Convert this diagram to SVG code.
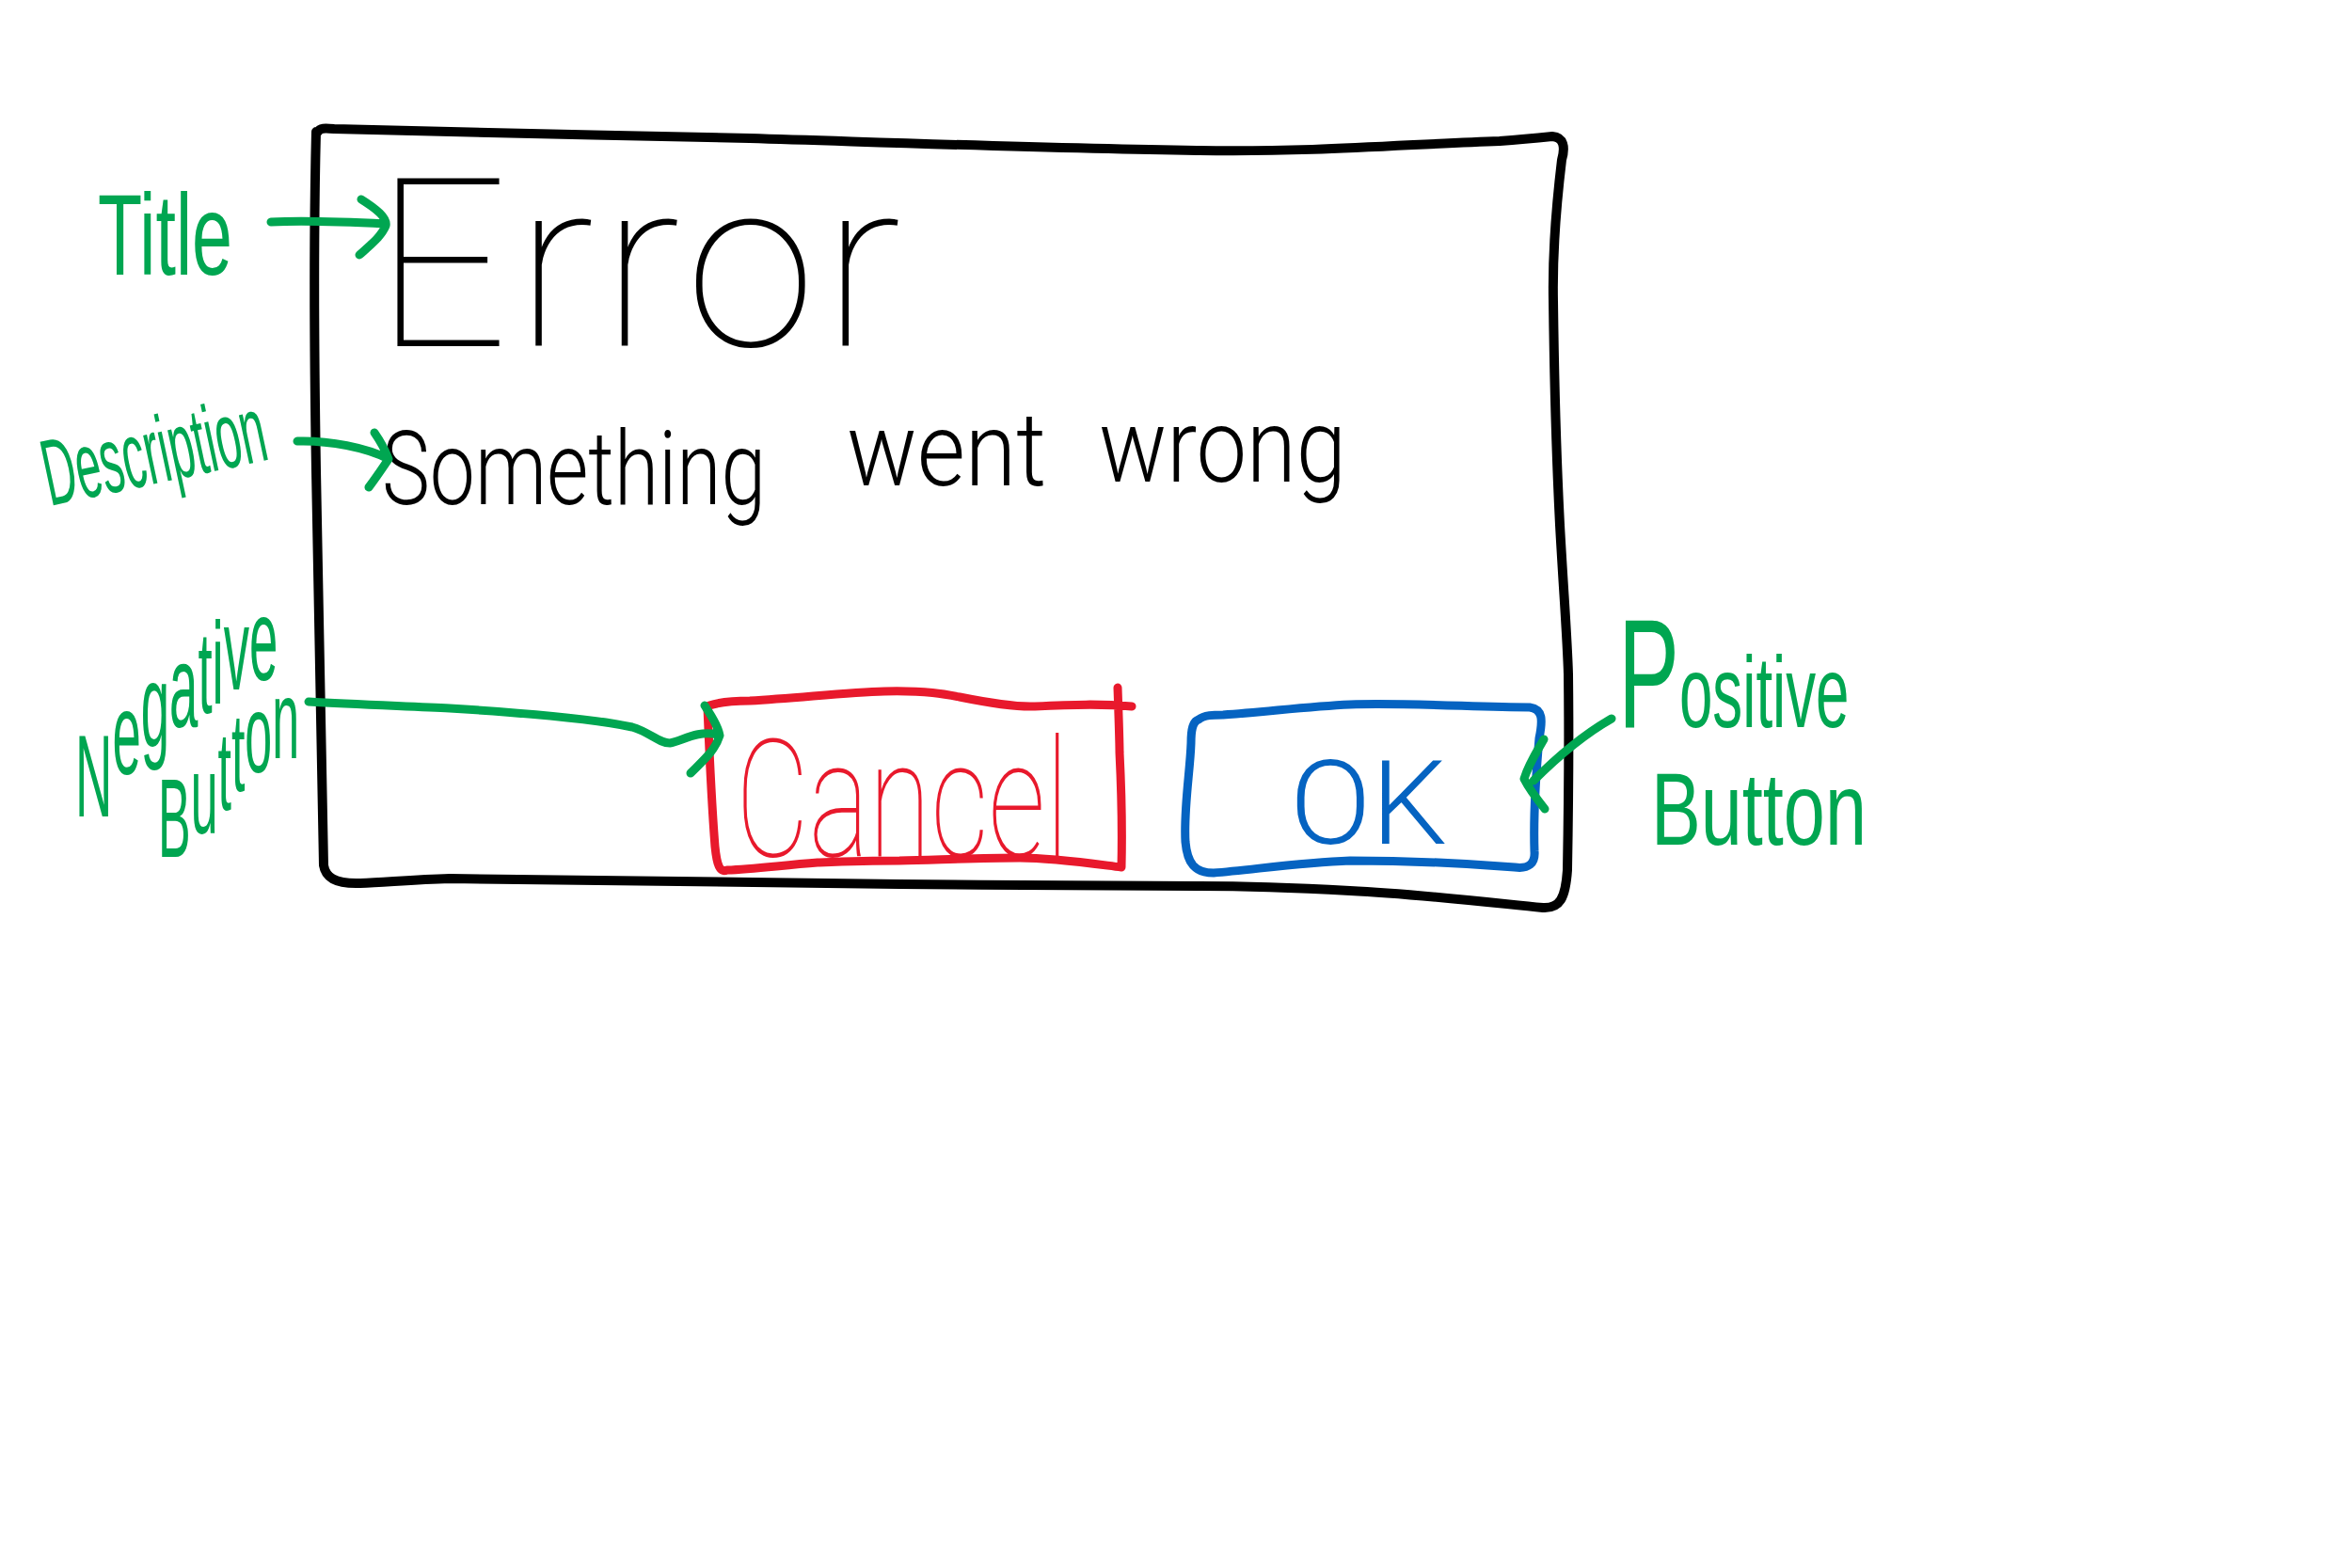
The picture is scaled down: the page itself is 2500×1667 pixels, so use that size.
<svg xmlns="http://www.w3.org/2000/svg" width="2500" height="1667" viewBox="0 0 2500 1667">
  <style>
    .ink { fill: none; stroke-linecap: round; stroke-linejoin: round; }
    .black { stroke: #000000; stroke-width: 10; }
    .red { stroke: #E8192C; stroke-width: 9; }
    .blue { stroke: #0563C1; stroke-width: 9; }
    .green { stroke: #00A651; stroke-width: 9; }
    .hand { font-family: "Roboto", "Liberation Sans", sans-serif; font-weight: 100; }
    .hand-mid { font-family: "Roboto", "Liberation Sans", sans-serif; font-weight: 300; }
    .note { font-family: "Liberation Sans", sans-serif; fill: #00A651; }
  </style>

  <rect x="0" y="0" width="2500" height="1667" fill="#FFFFFF"/>

  <!-- dialog frame -->
  <g id="dialog">
    <path class="ink black" d="M338,140 C340,136 345,136 355,137 C500,141 650,144 797,147 C960,152 1120,158 1275,160 C1400,162 1500,153 1594,150 C1620,148 1640,146 1650,145 C1662,146 1664,156 1660,170 C1654,220 1650,270 1651,320 C1652,400 1654,480 1658,558 C1662,630 1666,680 1667,717 C1668,800 1667,870 1666,925 C1664,955 1658,966 1640,965 C1570,958 1500,950 1435,947 C1380,944 1320,942 1275,942 C1150,941 1060,941 956,940 C800,937 640,935 478,934 C440,935 410,938 383,939 C355,940 346,932 344,920 C342,800 338,650 336,500 C334,380 333,260 336,140"/>
  </g>

  <!-- title -->
  <g id="title">
    <text class="hand" x="398" y="368" font-size="250" textLength="560" fill="#000000">Error</text>
  </g>

  <!-- description, one word per text so each can sit on its own baseline -->
  <g id="description" class="hand-mid" font-size="110" fill="#000000">
    <text transform="translate(406,536) scale(0.78,1)">Something</text>
    <text transform="translate(900,516) scale(0.9,1)">went</text>
    <text transform="translate(1168,512) scale(0.87,1)">wrong</text>
  </g>

  <!-- negative button -->
  <g id="cancel-button">
    <path class="ink red" d="M754,750 C770,745 785,745 797,745 C850,742 900,736 940,735 C985,734 1005,738 1020,741 C1055,748 1080,752 1100,751 C1140,749 1170,748 1203,751 M1188,731 C1189,760 1190,790 1190,800 C1192,840 1193,880 1192,922 C1160,918 1120,912 1084,912 C1040,912 1000,914 956,915 C920,915 895,916 869,917 C830,920 800,924 773,925 C765,928 762,920 760,900 C756,850 754,800 752,752"/>
    <text class="hand" x="782" y="910" font-size="175" textLength="354" lengthAdjust="spacingAndGlyphs" fill="#E8192C">Cancel</text>
  </g>

  <!-- positive button -->
  <g id="ok-button">
    <path class="ink blue" d="M1274,765 C1280,760 1290,760 1300,760 C1345,757 1390,751 1435,749 C1500,747 1570,752 1626,752 C1640,754 1640,765 1636,785 C1632,830 1630,875 1631,905 C1632,918 1625,924 1610,922 C1560,918 1490,915 1435,915 C1380,917 1330,925 1290,928 C1270,928 1262,918 1260,895 C1258,860 1265,820 1266,790 C1266,775 1268,767 1274,765"/>
    <text class="hand-mid" x="1371" y="897" font-size="124" textLength="167" lengthAdjust="spacingAndGlyphs" fill="#0563C1">OK</text>
  </g>

  <!-- annotation labels -->
  <g id="label-title">
    <text class="note" x="104" y="292" font-size="122" textLength="143" lengthAdjust="spacingAndGlyphs">Title</text>
  </g>
  <g id="label-description">
    <text class="note" x="53" y="538" font-size="100" textLength="240" lengthAdjust="spacingAndGlyphs" transform="rotate(-12 53 538)">Description</text>
  </g>
  <g id="label-negative">
    <text class="note" font-size="124" transform="translate(80,868) scale(0.44,1)">
      <tspan x="0" y="0" dy="0 -45 -30 -20 -15 -10 -15 -10">Negative</tspan>
    </text>
    <text class="note" font-size="118" transform="translate(168,911) scale(0.44,1)">
      <tspan x="0" y="0" dy="0 -25 -25 -20 -20 -15">Button</tspan>
    </text>
  </g>
  <g id="label-positive">
    <text class="note" font-size="108" transform="translate(1720,773) scale(0.59,1)"><tspan font-size="165">P</tspan>ositive</text>
    <text class="note" font-size="110" transform="translate(1755,898) scale(0.72,1)">Button</text>
  </g>

  <!-- connectors -->
  <g id="connectors">
    <path class="ink green" stroke-width="10" d="M288,236 C330,234 370,236 410,238 M384,212 C400,222 412,232 410,240 C405,252 392,262 382,271"/>
    <path class="ink green" stroke-width="10" d="M316,469 C350,468 390,476 413,488 M398,460 C405,470 410,480 413,488 C405,500 398,510 392,518"/>
    <path class="ink green" stroke-width="7" d="M328,746 C380,749 440,751 478,753 C560,758 630,764 672,773 C690,778 700,790 712,790 C725,788 740,776 763,781 M749,750 C755,760 763,770 765,782 C760,798 748,808 734,822"/>
    <path class="ink green" stroke-width="7" d="M1713,764 C1690,777 1660,800 1630,830 M1641,786 C1633,800 1625,812 1620,828 C1626,840 1634,850 1642,860"/>
  </g>
</svg>
